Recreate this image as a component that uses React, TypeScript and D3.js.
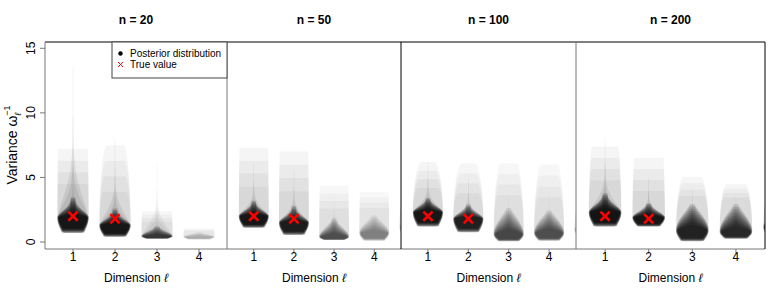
import React from 'react';
import * as d3 from 'd3';

const W = 768;
const H = 307;

const panelTitles = ['n = 20', 'n = 50', 'n = 100', 'n = 200'];
const dimensions = [1, 2, 3, 4, 5]; // dim 5 is cut off at the panel edge
const dimTicks = [1, 2, 3, 4];
const trueValues = [2.0, 1.8]; // dims 1 and 2
const yTicks = [0, 5, 10, 15];

// posterior summaries per panel (rows) and dimension (columns)
const lowerEnd = [
  [0.7, 0.4, 0.25, 0.2, 0.3],
  [1.1, 0.55, 0.15, 0.1, 0.3],
  [1.2, 0.75, 0.05, 0.1, 0.3],
  [1.2, 1.2, 0.05, 0.25, 0.3],
];
const modeValue = [
  [1.9, 1.3, 0.45, 0.4, 0.8],
  [2.0, 1.5, 0.4, 0.7, 1.2],
  [2.3, 1.8, 0.6, 0.7, 1.0],
  [2.3, 1.9, 0.9, 0.8, 1.2],
];
const coreUpper = [
  [3.6, 2.7, 1.3, 0.8, 1.2],
  [3.3, 2.9, 2.0, 2.2, 2.0],
  [3.5, 3.0, 2.8, 2.6, 2.0],
  [3.9, 3.1, 3.1, 3.1, 2.5],
];
const envelopeTop = [
  [7.2, 7.5, 2.4, 1.05, 1.5],
  [7.3, 7.0, 4.35, 3.9, 3.0],
  [6.2, 6.1, 6.1, 6.0, 3.0],
  [7.4, 6.5, 5.05, 4.5, 3.5],
];
const tailTop = [
  [13.6, 7.9, 6.1, 1.05, 1.5],
  [6.1, 5.6, 3.5, 2.5, 2.5],
  [6.2, 5.0, 3.7, 3.7, 2.5],
  [8.1, 5.0, 4.0, 3.5, 3.0],
];
const density = [
  [0.95, 0.92, 0.6, 0.12, 0.0],
  [0.9, 0.85, 0.45, 0.25, 0.15],
  [0.9, 0.8, 0.5, 0.45, 0.2],
  [0.97, 0.92, 0.78, 0.72, 0.6],
];
const topTaper = [
  [0.95, 0.55, 0.95, 0.95, 0.9],
  [0.95, 0.95, 0.95, 0.95, 0.9],
  [0.45, 0.45, 0.55, 0.55, 0.8],
  [0.8, 0.9, 0.55, 0.6, 0.8],
];
const coreFlare = [
  [3.0, 3.0, 2.0, 1.5, 1.5],
  [2.8, 2.8, 2.0, 1.5, 1.5],
  [2.4, 2.4, 1.4, 1.4, 1.5],
  [2.6, 2.4, 1.4, 1.4, 1.5],
];

const panelEdges = [45, 227, 401, 576, 765];
const plotTop = 42;
const plotBottom = 249;
const axisGray = '#777777';
const font = '"Liberation Sans", Arial, Helvetica, sans-serif';

const yScale = d3.scaleLinear().domain([0, 15]).range([242, 48.3]);

type Layer = { b: number; m: number; t: number; wb: number; wt: number; p: number; h: number; o: number };

function widthAt(v: number, L: Layer) {
  if (v <= L.m) {
    const u = L.m - L.b < 1e-6 ? 1 : (v - L.b) / (L.m - L.b);
    return L.wb + (1 - L.wb) * Math.sin((Math.PI / 2) * Math.max(0, u));
  }
  const u = Math.min(1, (v - L.m) / Math.max(1e-6, L.t - L.m));
  return L.wt + (1 - L.wt) * Math.pow(1 - u, L.p) * (1 + L.p * u);
}

function layersFor(p: number, d: number): Layer[] {
  const lo = lowerEnd[p][d];
  const mode = modeValue[p][d];
  const core = coreUpper[p][d];
  const env = envelopeTop[p][d];
  const tail = tailTop[p][d];
  const ink = density[p][d];
  const taper = topTaper[p][d];
  const flare = coreFlare[p][d];
  const out: Layer[] = [];
  if (ink <= 0) return out;
  for (let i = 0; i < 4; i++) {
    const f = (i + 1) / 4;
    out.push({
      b: lo, m: mode, t: Math.max(mode, core + (env - core) * f),
      wb: 0.7, wt: taper + (1 - taper) * (1 - f) * 0.5, p: 0.6, h: 0.98,
      o: 0.022 + 0.018 * ink,
    });
  }
  for (let i = 0; i < 3; i++) {
    const f = (i + 1) / 3;
    out.push({
      b: lo, m: mode, t: Math.max(mode + 0.05, mode + (tail - mode) * f),
      wb: 0.6, wt: 0.02, p: 8, h: 0.92, o: 0.08 * ink,
    });
  }
  for (let i = 0; i < 10; i++) {
    const f = (i + 1) / 10;
    out.push({
      b: lo + (mode - lo) * 0.3 * f, m: mode,
      t: Math.max(mode + 0.05, mode + (core - mode) * (1 - 0.8 * f)),
      wb: 0.7, wt: 0.15, p: flare, h: 1 - 0.12 * f, o: 0.19 * ink,
    });
  }
  return out;
}

const Panel = ({ index }: { index: number }) => {
  const x0 = panelEdges[index];
  const x1 = panelEdges[index + 1];
  const xScale = d3.scaleLinear().domain([1 / 3, 14 / 3]).range([x0, x1]);
  const halfW = 0.38;
  const clipId = `clip-${index}`;

  return (
    <g>
      <defs>
        <clipPath id={clipId}>
          <rect x={x0} y={plotTop} width={x1 - x0} height={plotBottom - plotTop} />
        </clipPath>
      </defs>
      <g clipPath={`url(#${clipId})`}>
        {dimensions.map((dim, di) => {
          const cx = xScale(dim);
          const unit = xScale(dim + halfW) - cx;
          return layersFor(index, di).map((L, li) => {
            const vs = d3.range(0, 81).map(k => L.b + ((L.t - L.b) * k) / 80);
            const area = d3.area<number>()
              .y(v => yScale(v))
              .x0(v => cx - widthAt(v, L) * L.h * unit)
              .x1(v => cx + widthAt(v, L) * L.h * unit);
            return <path key={`${di}-${li}`} d={area(vs) || ''} fill="#000" fillOpacity={L.o} />;
          });
        })}
        {trueValues.map((tv, i) => {
          const cx = xScale(i + 1);
          const cy = yScale(tv);
          const s = 4.6;
          return (
            <g key={i} stroke="#ff0000" strokeWidth={2.6}>
              <line x1={cx - s} y1={cy - s} x2={cx + s} y2={cy + s} />
              <line x1={cx - s} y1={cy + s} x2={cx + s} y2={cy - s} />
            </g>
          );
        })}
      </g>
      {dimTicks.map(t => (
        <g key={t}>
          <line x1={xScale(t)} x2={xScale(t)} y1={plotBottom} y2={plotBottom + 4.5} stroke={axisGray} />
          <text x={xScale(t)} y={261} textAnchor="middle" fontSize={12} fontFamily={font}>{t}</text>
        </g>
      ))}
      <text x={(x0 + x1) / 2} y={282} textAnchor="middle" fontSize={12} fontFamily={font}>
        Dimension <tspan fontStyle="italic">ℓ</tspan>
      </text>
      <text x={(x0 + x1) / 2} y={24} textAnchor="middle" fontSize={12} fontWeight="bold" fontFamily={font}>
        {panelTitles[index]}
      </text>
    </g>
  );
};

export default function App() {
  return (
    <svg width={W} height={H} style={{ position: 'absolute', left: 0, top: 0, background: '#fff' }}>
      <rect x={0} y={0} width={W} height={H} fill="#fff" />
      {panelTitles.map((_, i) => <Panel key={i} index={i} />)}

      {/* frame */}
      <line x1={panelEdges[0]} x2={panelEdges[4]} y1={plotTop} y2={plotTop} stroke="#000" />
      <line x1={panelEdges[0]} x2={panelEdges[4]} y1={plotBottom} y2={plotBottom} stroke={axisGray} />
      <line x1={panelEdges[0]} x2={panelEdges[0]} y1={plotTop} y2={plotBottom} stroke={axisGray} />
      <line x1={panelEdges[1]} x2={panelEdges[1]} y1={plotTop} y2={plotBottom} stroke={axisGray} />
      <line x1={panelEdges[2]} x2={panelEdges[2]} y1={plotTop} y2={plotBottom} stroke="#000" />
      <line x1={panelEdges[3]} x2={panelEdges[3]} y1={plotTop} y2={plotBottom} stroke={axisGray} />
      <line x1={panelEdges[4]} x2={panelEdges[4]} y1={plotTop} y2={plotBottom} stroke="#000" />

      {/* y axis */}
      {yTicks.map(t => (
        <g key={t}>
          <line x1={panelEdges[0] - 5} x2={panelEdges[0]} y1={yScale(t)} y2={yScale(t)} stroke={axisGray} />
          <text transform={`translate(35,${yScale(t)}) rotate(-90)`} textAnchor="middle" fontSize={12} fontFamily={font}>{t}</text>
        </g>
      ))}
      <text transform="translate(17,145) rotate(-90)" textAnchor="middle" fontSize={14} fontFamily={font}>
        Variance ω<tspan fontSize={9} dy={4} fontStyle="italic">ℓ</tspan>
        <tspan fontSize={9} dy={-11} dx={-3}>−1</tspan>
      </text>

      {/* legend */}
      <rect x={112} y={plotTop} width={115} height={36} fill="#fff" stroke="#444" />
      <circle cx={120.5} cy={53.5} r={2.2} fill="#000" />
      <text x={130} y={57} fontSize={10} fontFamily={font}>Posterior distribution</text>
      <g stroke="#ff0000" strokeWidth={1}>
        <line x1={118} y1={62} x2={123} y2={67} />
        <line x1={118} y1={67} x2={123} y2={62} />
      </g>
      <text x={130} y={68} fontSize={10} fontFamily={font}>True value</text>
    </svg>
  );
}
